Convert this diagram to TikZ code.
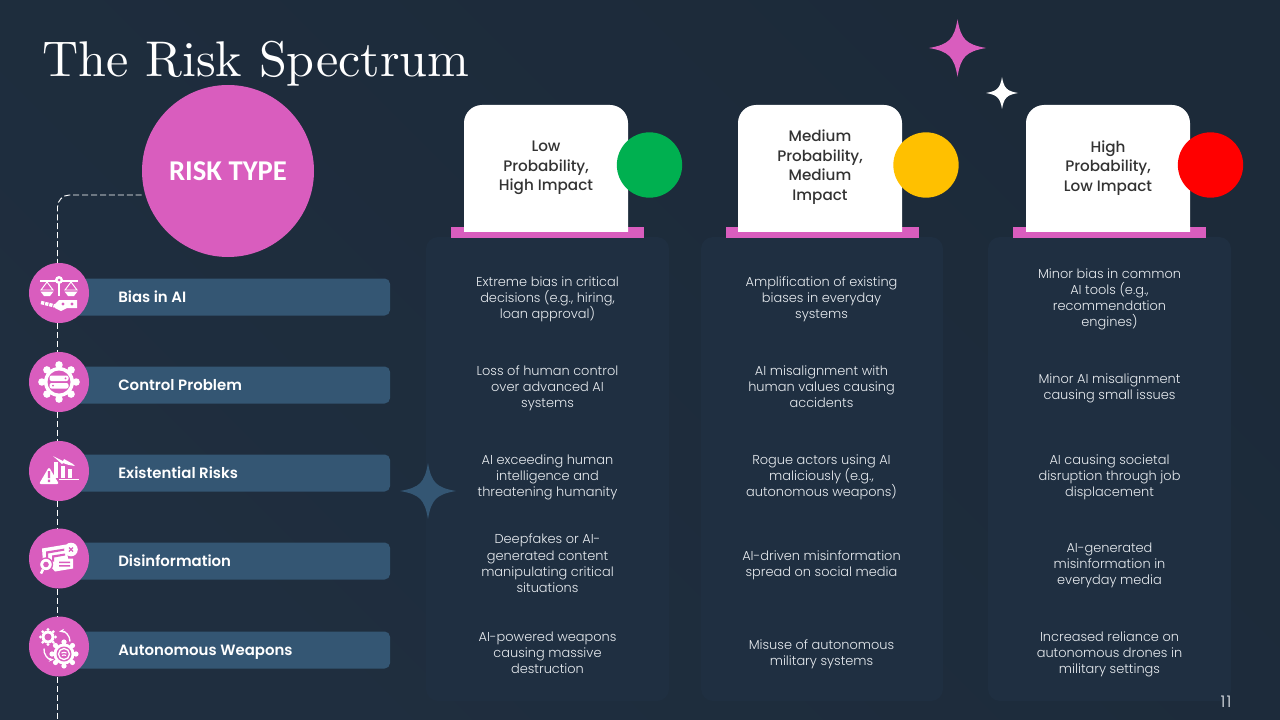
\documentclass[tikz,border=0pt]{standalone}
\usepackage{fontspec}
\setmainfont{lmroman10-regular.otf}
\newfontfamily\bodyfont{Poppins Light}
\newfontfamily\headfont{Poppins Medium}
\newfontfamily\rowfont{Poppins SemiBold}
\newfontfamily\typefont{Carlito}[BoldFont=Carlito Bold]
\usetikzlibrary{arrows.meta,calc}
\definecolor{slidebg}{RGB}{31,46,63}
\definecolor{slidebgb}{RGB}{28,42,57}
\definecolor{cardbg}{RGB}{31,47,65}
\definecolor{barblue}{RGB}{52,86,115}
\definecolor{riskpink}{RGB}{217,93,190}
\definecolor{bodygrey}{RGB}{232,236,240}
\definecolor{lowdot}{RGB}{0,176,80}
\definecolor{meddot}{RGB}{255,192,0}
\definecolor{highdot}{RGB}{255,0,0}
\tikzset{
    cardbox/.style={fill=cardbg, rounded corners=9pt},
    rowbar/.style={fill=barblue, rounded corners=4pt},
    iconbub/.style={circle, fill=riskpink, minimum size=45pt, inner sep=0pt},
    statdot/.style={circle, minimum size=49pt, inner sep=0pt},
    dashline/.style={draw=white, line width=0.7pt, dash pattern=on 4.5pt off 2.2pt},
    rowlabel/.style={font=\rowfont\fontsize{11.2}{13}\selectfont, text=white, anchor=west, inner sep=0pt,
        execute at begin node=\strut},
    celltext/.style={font=\bodyfont\fontsize{9.7}{12}\selectfont, text=bodygrey, align=center, inner sep=0pt,
        execute at begin node=\strut, execute at end node=\strut},
    tabtext/.style={font=\headfont\fontsize{11.4}{14.6}\selectfont, text=black!80, align=center, inner sep=0pt,
        execute at begin node=\strut, execute at end node=\strut},
    sparkle/.pic={\fill (0,-1) .. controls (0.12,-0.3) and (0.3,-0.12) .. (1,0)
        .. controls (0.3,0.12) and (0.12,0.3) .. (0,1)
        .. controls (-0.12,0.3) and (-0.3,0.12) .. (-1,0)
        .. controls (-0.3,-0.12) and (-0.12,-0.3) .. (0,-1) -- cycle;},
}
% white gear: centre, body radius
\newcommand{\whitegear}[2]{
    \foreach \a in {0,45,...,315}
        \fill[white] ($#1+(\a:#2*1.14)$) circle ({#2*0.25});
    \fill[white] #1 circle (#2);
}
\begin{document}
\begin{tikzpicture}[x=0.75pt,y=-0.75pt]
    \useasboundingbox (0,0) rectangle (1280,720);
    \shade[left color=slidebg, right color=slidebgb, shading angle=135] (0,0) rectangle (1280,720);

    % columns
    \fill[cardbox] (426,237) rectangle (669,701);
    \fill[cardbox] (701,237) rectangle (943,701);
    \fill[cardbox] (988,237) rectangle (1231,701);

    % title
    \node[anchor=base west, inner sep=0pt, text=white, font=\fontsize{37.6}{40}\selectfont] (title) at (42,77) {The Risk Spectrum};

    % sparkles
    \path[riskpink] (957.5,48) pic[x=21.5pt,y=21.5pt] {sparkle};
    \path[white] (1002,93) pic[x=12pt,y=12pt] {sparkle};
    \path[barblue] (428,491) pic[x=21pt,y=21pt] {sparkle};

    % rows
    \foreach \i/\y/\t in {1/297/Bias in AI,2/385/Control Problem,3/473/Existential Risks,4/561/Disinformation,5/650/Autonomous Weapons} {
        \fill[rowbar] (70,\y-18.5) rectangle (390,\y+18.5);
        \node[rowlabel] (label\i) at (118,\y+2) {\t};
    }

    % risk circle
    \node[circle, fill=riskpink, minimum size=129pt, inner sep=0pt, text=white, font=\typefont\bfseries\fontsize{21.5}{24}\selectfont] (risk) at (228,171) {RISK TYPE};

    % icons
    \node[iconbub] (icona) at (59,293) {};
    \node[iconbub] (iconb) at (59,382) {};
    \node[iconbub] (iconc) at (59,471) {};
    \node[iconbub] (icond) at (59,558.5) {};
    \node[iconbub] (icone) at (59,646.5) {};
    \coordinate (tail) at (57.5,720);

    % dashed spine
    \draw[dashline, rounded corners=9pt] (risk.west |- 0,195) -- (57.5,195) -- (57.5,263);
    \draw[dashline] (57.5,323) -- (57.5,352);
    \draw[dashline] (57.5,412) -- (57.5,441);
    \draw[dashline] (57.5,501) -- (57.5,528);
    \draw[dashline] (57.5,589) -- (57.5,616);
    \draw[dashline] (57.5,677) -- (tail);

    % scales icon
    \begin{scope}[shift={(icona.center)}]
        \fill[white] (-19,-13.5) rectangle (19,-11.5);
        \fill[white] (-1.2,-15) rectangle (1.2,3);
        \fill[white] (0,-13) circle (4);
        \fill[riskpink] (0,-13) circle (1.5);
        \foreach \s in {-12,12} {
            \draw[white, line width=0.7pt] (\s,-11) -- (\s-6,-3) -- (\s+6,-3) -- cycle;
            \fill[white] (\s-6.5,-1.5) -- (\s+6.5,-1.5) -- (\s+3,3) -- (\s-3,3) -- cycle;
        }
        \draw[white, line width=2.6pt, dash pattern=on 2.5pt off 0.7pt] (-18,9.5) -- (-4,13);
        \fill[white] (-4,11) -- (0,7) -- (18,7) -- (18,15) -- (8,15) -- (2,18) -- (-4,15) -- cycle;
        \fill[riskpink] (4,11) circle (1.7) (13,11) circle (1.7);
    \end{scope}

    % control icon
    \begin{scope}[shift={(iconb.center)}]
        \whitegear{(0,0)}{15}
        \fill[riskpink] (0,0) circle (11.5);
        \fill[white, rounded corners=1.5pt] (-9.5,-6.5) rectangle (9.5,-1);
        \fill[white, rounded corners=1.5pt] (-9.5,1) rectangle (9.5,6.5);
        \fill[riskpink] (6.5,-3.7) circle (1) (-6,3.7) circle (1);
    \end{scope}

    % warning icon
    \begin{scope}[shift={(iconc.center)}]
        \fill[white, rounded corners=1.5pt] (-20,13) -- (-10,-4) -- (0,13) -- cycle;
        \fill[riskpink] (-11.2,0) rectangle (-8.8,7) (-11.2,8.5) rectangle (-8.8,11);
        \fill[white] (-5,-9) rectangle (-1,7);
        \fill[white] (2,-5) rectangle (6,7);
        \fill[white] (9,-2) rectangle (13,7);
        \fill[white] (0,8) rectangle (20,9);
        \fill[white] (-6,-15) -- (4,-10) -- (5,-12) -- (14,-7) -- (16,-5) -- (10,-6) -- (4,-8) -- (3,-7) -- cycle;
    \end{scope}

    % disinformation icon
    \begin{scope}[shift={(icond.center)}]
        \fill[white] (-17,-10) -- (7,-14) -- (9,0) -- (14,0) -- (14,10) -- (-4,13) -- (-10,6) -- (-16,4) -- cycle;
        \fill[riskpink] (-13,-7) -- (6,-10) -- (6,-8) -- (-11,-5) -- (-11,3) -- (-13,3) -- cycle;
        \fill[riskpink] (-7,-3) -- (6,-5) -- (6,-3) -- (-5,-1) -- (-5,3) -- (-7,3) -- cycle;
        \fill[riskpink] (0,3) rectangle (11,4.5) (0,6.5) rectangle (11,8);
        \fill[white] (12,-9) circle (6.8);
        \draw[riskpink, line width=1pt] (10,-11) -- (14,-7) (14,-11) -- (10,-7);
        \draw[riskpink, line width=1pt, fill=white] (-13,6) circle (6.5);
        \fill[riskpink] (-13,6) circle (2.8);
        \draw[white, line width=2pt] (-16,11) -- (-18,15);
    \end{scope}

    % autonomous icon
    \begin{scope}[shift={(icone.center)}]
        \whitegear{(-11,-9.5)}{6.5}
        \whitegear{(5,7.5)}{10.5}
        \fill[riskpink] (-11,-9.5) circle (3.5);
        \fill[riskpink] (5,7.5) circle (7.5);
        \draw[white, line width=1pt] (5,7.5) circle (5.5);
        \draw[white, line width=0.8pt] (2.5,6.5) to[bend left=30] (7.5,6.5) (3,9) to[bend left=30] (7,9);
        \draw[white, line width=1pt, -{Stealth[length=4pt]}] (11,-5) to[bend right=50] (0,-15);
        \draw[white, line width=1pt, -{Stealth[length=4pt]}] (-15,2) to[bend right=50] (-5,13);
    \end{scope}

    % headers
    \foreach \n/\cx/\bx in {a/546/547.5,b/820/822,c/1108/1109.5} {
        \fill[riskpink] (\bx-96.5,227) rectangle (\bx+96.5,238);
        \fill[white] (\cx-82,232) {[rounded corners=13.5pt] -- (\cx-82,105) -- (\cx+82,105)} -- (\cx+82,232) -- cycle;
    }
    \node[statdot, fill=lowdot] (dotlow) at (649.5,165) {};
    \node[statdot, fill=meddot] (dotmed) at (926,165) {};
    \node[statdot, fill=highdot] (dothigh) at (1210.5,165) {};
    \node[tabtext] (tablow) at (546,169) {Low\\Probability,\\High Impact};
    \node[tabtext] (tabmed) at (820,168) {Medium\\Probability,\\Medium\\Impact};
    \node[tabtext] (tabhigh) at (1108,169) {High\\Probability,\\Low Impact};

    % column text
    \node[celltext] (lowa) at (547.5,300.5) {Extreme bias in critical\\decisions (e.g., hiring,\\loan approval)};
    \node[celltext] (lowb) at (547.5,389.5) {Loss of human control\\over advanced AI\\systems};
    \node[celltext] (lowc) at (547.5,478.5) {AI exceeding human\\intelligence and\\threatening humanity};
    \node[celltext] (lowd) at (547.5,565.5) {Deepfakes or AI-\\generated content\\manipulating critical\\situations};
    \node[celltext] (lowe) at (547.5,655.5) {AI-powered weapons\\causing massive\\destruction};
    \node[celltext] (meda) at (821.5,300.5) {Amplification of existing\\biases in everyday\\systems};
    \node[celltext] (medb) at (821.5,389.5) {AI misalignment with\\human values causing\\accidents};
    \node[celltext] (medc) at (821.5,478.5) {Rogue actors using AI\\maliciously (e.g.,\\autonomous weapons)};
    \node[celltext] (medd) at (821.5,565.5) {AI-driven misinformation\\spread on social media};
    \node[celltext] (mede) at (821.5,654.5) {Misuse of autonomous\\military systems};
    \node[celltext] (higha) at (1109.5,300.5) {Minor bias in common\\AI tools (e.g.,\\recommendation\\engines)};
    \node[celltext] (highb) at (1109.5,389.5) {Minor AI misalignment\\causing small issues};
    \node[celltext] (highc) at (1109.5,478.5) {AI causing societal\\disruption through job\\displacement};
    \node[celltext] (highd) at (1109.5,566.5) {AI-generated\\misinformation in\\everyday media};
    \node[celltext] (highe) at (1109.5,655.5) {Increased reliance on\\autonomous drones in\\military settings};

    % page number
    \node[font=\bodyfont\fontsize{12}{14}\selectfont, text=bodygrey] (pagenum) at (1226,702) {1\kern1pt 1};
\end{tikzpicture}
\end{document}
